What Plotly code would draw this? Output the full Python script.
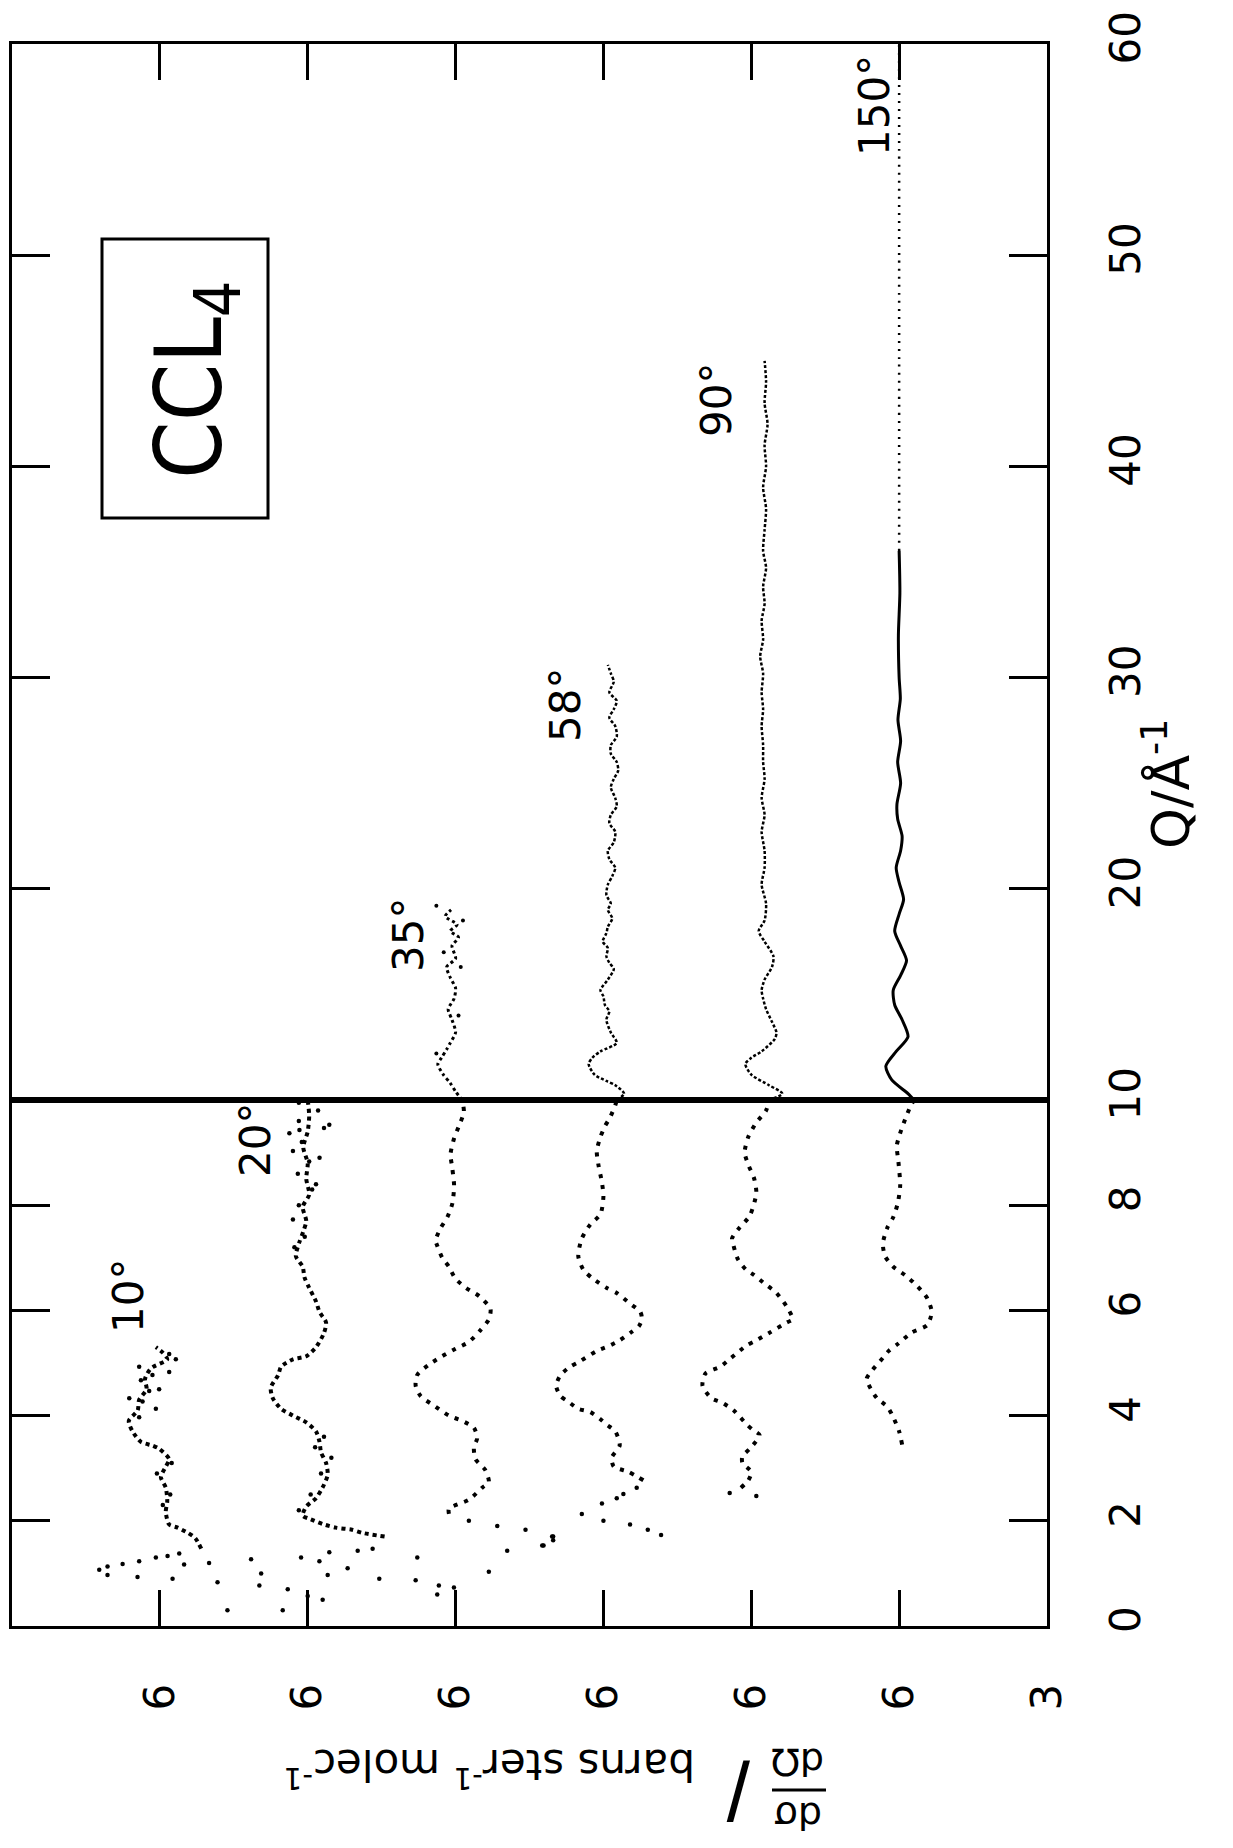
import plotly.graph_objects as go

# ---------------- data (Q in 1/Angstrom, values in tick-spacing units; + = higher cross section) ----
angles = ["10°", "20°", "35°", "58°", "90°", "150°"]
offsets = [6, 5, 4, 3, 2, 1]
xtick_vals = [6, 5, 4, 3, 2, 1, 0]
xtick_text = ["6", "6", "6", "6", "6", "6", "3"]
q_ticks_low = [0, 2, 4, 6, 8, 10]
q_ticks_high = [20, 30, 40, 50, 60]

# 10 deg
q10 = [1.47, 1.67, 1.77, 1.87, 1.93, 2.17, 2.37, 2.63, 2.83, 3.03, 3.17, 3.37, 3.43, 3.5, 3.7,
       3.9, 4.1, 4.3, 4.5, 4.7, 4.9, 5.07, 5.2, 5.3]
v10 = [-0.28, -0.24, -0.19, -0.12, -0.063, -0.04, -0.05, -0.04, -0.007, -0.04, -0.063, 0.005, 0.05,
       0.128, 0.185, 0.21, 0.15, 0.14, 0.09, 0.1, 0.06, -0.05, -0.018, 0.027]
q10n = [3.97, 4.13, 4.27, 4.33, 4.47, 4.5, 4.67, 4.77, 4.83, 4.93, 5.07, 5.17, 2.3, 2.5, 2.9, 3.1,
        1.07, 1.13, 0.97, 1.18, 0.93, 1.23, 1.3, 1.33, 0.9, 1.38, 1.17, 1.2, 0.83, 0.3]
v10n = [0.14, 0.027, 0.117, 0.207, 0.072, 0.005, 0.128, 0.05, -0.063, 0.14, -0.108, -0.063, -0.02,
        -0.07, 0.02, -0.08,
        0.41, 0.354, 0.354, 0.252, 0.151, 0.14, 0.027, -0.052, -0.086, -0.131, -0.164, -0.333, -0.39,
        -0.457]

# 20 deg
q20 = [1.7, 1.77, 1.83, 1.87, 1.93, 2.03, 2.1, 2.27, 2.43, 2.63, 2.87, 3.1, 3.3, 3.5, 3.7, 3.87,
       4.0, 4.13, 4.33, 4.53, 4.77, 4.93, 5.07, 5.13, 5.3, 5.57, 5.77, 5.97, 6.17, 6.43, 6.63, 6.83,
       7.03, 7.3, 7.5, 7.7, 7.97, 8.2, 8.5, 8.8, 9.1, 9.4, 9.7, 10.0]
v20 = [-0.52, -0.37, -0.3, -0.19, -0.11, -0.02, 0.034, 0.01, -0.056, -0.1, -0.135, -0.124, -0.09,
       -0.08, -0.056, 0.01, 0.1, 0.18, 0.236, 0.25, 0.2, 0.18, 0.1, 0.01, -0.056, -0.11, -0.124,
       -0.08, -0.056, -0.01, 0.022, 0.034, 0.08, 0.056, 0.03, 0.01, 0.034, -0.01, 0.01, 0.0, 0.03,
       0.0, -0.01, 0.0]
q20n = [2.2, 2.5, 2.9, 3.2, 3.4, 3.6, 7.2, 7.4, 7.73, 8.0, 8.3, 8.4, 8.6, 8.83, 8.9, 9.03, 9.2,
        9.37, 9.43, 9.47, 9.53, 9.6, 9.8, 9.95,
        1.27, 1.0, 0.77, 0.3, 0.7, 1.3, 0.57, 0.5, 1.23, 0.97, 1.4, 1.1, 1.43, 1.47, 0.9]
v20n = [0.06, -0.02, -0.09, -0.16, -0.05, -0.11, 0.09, 0.02, 0.1, 0.06, -0.03, -0.056, 0.067,
        -0.01, -0.08, 0.1, 0.04, 0.124, 0.056, -0.11, -0.146, 0.06, -0.07, 0.06,
        0.383, 0.315, 0.327, 0.169, 0.135, 0.045, 0.0, -0.101, -0.079, -0.135, -0.146, -0.27,
        -0.338, -0.439, -0.484]

# 35 deg
q35 = [2.13, 2.23, 2.4, 2.63, 2.73, 2.97, 3.17, 3.4, 3.57, 3.77, 3.9, 4.0, 4.17, 4.37, 4.57,
       4.77, 4.97, 5.13, 5.27, 5.4, 5.63, 5.83, 6.03, 6.27, 6.43, 6.6, 6.83, 7.0, 7.23, 7.33, 7.57,
       7.77, 8.03, 8.37, 8.7, 8.97, 9.27, 9.5, 9.77, 10.0]
v35 = [0.045, 0.045, -0.09, -0.18, -0.225, -0.2, -0.135, -0.124, -0.146, -0.124, -0.045, 0.045,
       0.135, 0.236, 0.27, 0.26, 0.18, 0.09, 0.0, -0.09, -0.17, -0.225, -0.236, -0.16, -0.07, 0.0,
       0.045, 0.09, 0.124, 0.135, 0.1, 0.056, 0.022, 0.01, 0.022, 0.034, 0.01, -0.022, -0.056,
       -0.045]
q35n = [0.87, 1.3, 0.77, 0.73, 0.6, 1.03, 1.43, 1.83, 1.53, 1.7, 1.9, 2.0]
v35n = [0.27, 0.259, 0.113, 0.011, 0.124, -0.225, -0.349, -0.473, -0.586, -0.653, -0.282, -0.09]
q35h = [10.0, 10.4, 10.8, 11.2, 11.7, 12.0, 12.4, 12.7, 13.2, 13.8, 14.3, 14.8, 15.3, 15.8, 16.3,
        16.7, 17.3, 17.7, 18.0, 18.3, 18.7, 19.0]
v35h = [-0.045, 0.0, 0.036, 0.083, 0.12, 0.095, 0.06, 0.036, 0.0, 0.024, 0.05, 0.01, 0.0, 0.036,
        0.06, 0.0, 0.024, -0.02, 0.036, -0.01, 0.07, 0.03]
q35hn = [16.3, 19.2, 17.0, 18.5, 14.0, 12.2]
v35hn = [-0.035, 0.13, 0.08, -0.05, -0.02, 0.13]

# 58 deg
q58 = [2.77, 2.93, 3.03, 3.2, 3.43, 3.7, 3.83, 3.93, 4.07, 4.13, 4.27, 4.37, 4.57, 4.77, 4.93,
       5.03, 5.23, 5.32, 5.43, 5.57, 5.7, 5.83, 5.97, 6.13, 6.33, 6.43, 6.6, 6.77, 7.03, 7.37, 7.63,
       7.83, 8.17, 8.43, 8.77, 9.03, 9.3, 9.5, 9.67, 9.9, 10.0]
v58 = [-0.27, -0.17, -0.07, -0.056, -0.11, -0.08, -0.02, 0.02, 0.09, 0.17, 0.24, 0.29, 0.32, 0.29,
       0.225, 0.16, 0.045, -0.034, -0.11, -0.18, -0.24, -0.26, -0.25, -0.18, -0.09, -0.02, 0.07,
       0.135, 0.17, 0.146, 0.09, 0.02, 0.0, 0.01, 0.034, 0.045, 0.02, -0.01, -0.045, -0.08, -0.09]
q58n = [1.53, 1.63, 1.7, 2.13, 2.33, 2.0, 1.93, 1.83, 1.73, 2.43, 2.51, 2.63]
v58n = [0.405, 0.34, 0.34, 0.146, 0.01, 0.0, -0.18, -0.3, -0.39, -0.09, -0.135, -0.225]
q58h = [10.0, 10.3, 10.7, 10.9, 11.2, 11.7, 12.0, 12.3, 12.7, 13.2, 13.8, 14.2, 14.5, 14.9, 15.2,
        15.7, 16.2, 16.5, 16.8, 17.2, 17.5, 17.9, 18.2, 18.6, 19.0, 19.3, 19.7, 20.2, 20.6, 21.0,
        21.4, 21.8, 22.2, 22.7, 23.1, 23.5, 23.9, 24.3, 24.8, 25.2, 25.6, 26.0, 26.4, 26.8, 27.2,
        27.7, 28.1, 28.5, 28.9, 29.3, 29.8, 30.2, 30.6]
v58h = [-0.09, -0.14, -0.08, -0.02, 0.06, 0.10, 0.075, 0.02, -0.09, -0.05, -0.02, -0.04, -0.01,
        0.0, 0.02, -0.03, -0.07, -0.04, -0.02, -0.03, 0.005, -0.02, -0.03, -0.06, -0.03, -0.05,
        -0.02, -0.03, -0.06, -0.08, -0.04, -0.03, -0.07, -0.08, -0.04, -0.05, -0.09, -0.08, -0.05,
        -0.07, -0.10, -0.09, -0.05, -0.05, -0.09, -0.08, -0.04, -0.07, -0.09, -0.04, -0.07, -0.05,
        -0.03]

# 90 deg
q90 = [2.63, 2.77, 2.93, 3.1, 3.23, 3.37, 3.63, 3.73, 3.83, 4.1, 4.25, 4.33, 4.57, 4.8, 4.93, 5.1,
       5.33, 5.43, 5.57, 5.77, 5.83, 6.07, 6.33, 6.53, 6.67, 6.77, 6.97, 7.23, 7.37, 7.57, 7.8,
       8.23, 8.5, 8.77, 9.0, 9.3, 9.57, 9.8, 10.0]
v90 = [0.07, 0.02, 0.0, 0.06, 0.06, 0.01, -0.056, -0.01, 0.03, 0.12, 0.2, 0.27, 0.33, 0.31, 0.21,
       0.135, 0.034, -0.034, -0.12, -0.24, -0.28, -0.24, -0.17, -0.08, -0.02, 0.034, 0.09, 0.12,
       0.13, 0.08, 0.01, -0.034, -0.02, 0.02, 0.045, 0.02, -0.034, -0.1, -0.12]
q90n = [2.47, 2.53]
v90n = [-0.034, 0.146]
q90h = [10.0, 10.3, 10.7, 11.2, 11.7, 12.0, 12.3, 12.9, 13.2, 13.7, 14.3, 14.8, 15.2, 15.7, 16.3,
        16.8, 17.5, 18.0, 18.5, 19.3, 20.2, 21.0, 21.8, 22.7, 23.5, 24.3, 25.2, 26.0, 26.8, 27.7,
        28.5, 29.3, 30.2, 31.0, 31.8, 32.7, 33.5, 34.3, 35.2, 36.0, 37.0, 38.0, 39.0, 40.0, 41.0,
        42.0, 43.0, 44.0, 45.0]
v90h = [-0.12, -0.21, -0.12, 0.0, 0.04, 0.0, -0.07, -0.16, -0.17, -0.14, -0.10, -0.08, -0.07,
        -0.09, -0.14, -0.15, -0.09, -0.05, -0.09, -0.10, -0.07, -0.09, -0.09, -0.07, -0.09, -0.07,
        -0.09, -0.08, -0.08, -0.07, -0.08, -0.07, -0.08, -0.06, -0.08, -0.07, -0.09, -0.08, -0.10,
        -0.08, -0.09, -0.10, -0.08, -0.10, -0.09, -0.11, -0.09, -0.10, -0.09]

# 150 deg
q150 = [3.45, 3.7, 3.97, 4.17, 4.33, 4.5, 4.7, 4.87, 5.03, 5.23, 5.37, 5.58, 5.72, 5.97, 6.23,
        6.47, 6.67, 6.83, 7.03, 7.27, 7.57, 7.77, 8.03, 8.37, 8.83, 9.13, 9.37, 9.63, 9.87, 10.0]
v150 = [-0.02, 0.0, 0.04, 0.08, 0.15, 0.19, 0.22, 0.18, 0.13, 0.07, 0.005, -0.085, -0.19, -0.22,
        -0.19, -0.12, -0.04, 0.04, 0.095, 0.11, 0.08, 0.04, 0.01, -0.007, 0.005, 0.016, -0.007,
        -0.04, -0.075, -0.1]
q150h = [10.0, 10.3, 10.95, 11.6, 12.3, 13.0, 13.8, 14.5, 15.2, 15.9, 16.6, 17.3, 18.0, 18.8,
         19.5, 20.3, 21.0, 21.8, 22.5, 23.3, 24.0, 25.0, 26.0, 27.0, 28.0, 29.0, 30.0, 32.0, 34.0,
         36.0]
v150h = [-0.1, -0.06, 0.05, 0.09, 0.02, -0.06, -0.02, 0.03, 0.04, -0.01, -0.05, -0.01, 0.03, 0.0,
         -0.03, 0.0, 0.02, -0.01, -0.02, 0.01, 0.015, -0.01, 0.01, -0.01, 0.008, -0.008, 0.0,
         0.005, -0.005, 0.0]
q150t = [36.0, 40.0, 45.0, 50.0, 55.0, 60.0]
v150t = [0.0, 0.0, 0.0, 0.0, 0.0, 0.0]

# ---------------- layout geometry ----------------
W, H = 1233, 1848
L, R, T, B = 12, 1047, 44, 1626
Q10_PX = 1100
qsplit = (B - Q10_PX) / (B - T)


def px(xp):
    return (xp - L) / (R - L)


def py(yp):
    return (B - yp) / (B - T)


FONT = "DejaVu Sans"
fig = go.Figure()


def line(q, v, off, high, width, dash, solid=False):
    fig.add_trace(go.Scatter(
        x=[off + a for a in v], y=q, mode="lines",
        line=dict(color="black", width=width, dash=None if solid else dash,
                  shape="spline", smoothing=0.7),
        xaxis="x2" if high else "x", yaxis="y2" if high else "y",
        hoverinfo="skip"))


def dots(q, v, off, high, size=4.5):
    fig.add_trace(go.Scatter(
        x=[off + a for a in v], y=q, mode="markers",
        marker=dict(color="black", size=size, line=dict(width=0)),
        xaxis="x2" if high else "x", yaxis="y2" if high else "y",
        hoverinfo="skip"))


LOWDASH = "4px,7px"
line(q10, v10, offsets[0], False, 4, "4px,4px")
dots(q10n, v10n, offsets[0], False)
line(q20, v20, offsets[1], False, 4, "4px,4px")
dots(q20n, v20n, offsets[1], False)
line(q35, v35, offsets[2], False, 4, LOWDASH)
dots(q35n, v35n, offsets[2], False)
line(q35h, v35h, offsets[2], True, 3, "3px,3px")
dots(q35hn, v35hn, offsets[2], True, 4)
line(q58, v58, offsets[3], False, 4, LOWDASH)
dots(q58n, v58n, offsets[3], False)
line(q58h, v58h, offsets[3], True, 2.5, "3px,2px")
line(q90, v90, offsets[4], False, 4, LOWDASH)
dots(q90n, v90n, offsets[4], False)
line(q90h, v90h, offsets[4], True, 2.5, "3px,2px")
line(q150, v150, offsets[5], False, 4, LOWDASH)
line(q150h, v150h, offsets[5], True, 3, None, solid=True)
line(q150t, v150t, offsets[5], True, 2.5, "2px,6px")

axis_common = dict(showgrid=False, zeroline=False, showline=True, linecolor="black",
                   linewidth=3, ticks="inside", tickwidth=2.5, tickcolor="black",
                   tickfont=dict(family=FONT, size=42, color="black"))

fig.update_layout(
    width=W, height=H,
    margin=dict(l=L, r=W - R, t=T, b=H - B, autoexpand=False),
    paper_bgcolor="white", plot_bgcolor="white", showlegend=False,
    xaxis=dict(axis_common, domain=[0, 1], anchor="y", range=[7.0, 0.0],
               tickvals=xtick_vals, ticktext=xtick_text, ticklen=36, tickangle=-90,
               mirror=True, ticklabelstandoff=38),
    xaxis2=dict(axis_common, domain=[0, 1], anchor="y2", side="top", range=[7.0, 0.0],
                tickvals=xtick_vals[:-1], ticklen=36, showticklabels=False, mirror=True),
    yaxis=dict(axis_common, domain=[0, qsplit], anchor="x", side="right", range=[0, 10],
               tickvals=q_ticks_low, ticktext=[str(t) for t in q_ticks_low], ticklen=38,
               tickangle=-90, mirror="ticks", ticklabelstandoff=40),
    yaxis2=dict(axis_common, domain=[qsplit, 1], anchor="x2", side="right", range=[10, 60],
                tickvals=q_ticks_high, ticktext=[str(t) for t in q_ticks_high], ticklen=38,
                tickangle=-90, mirror="ticks", ticklabelstandoff=40),
)

annots = []
label_pos = [(128, 1296), (255, 1140), (408, 935), (565, 705), (716, 400), (875, 106)]
for txt, (xp, yp) in zip(angles, label_pos):
    annots.append(dict(text=txt, x=px(xp), y=py(yp), xref="paper", yref="paper",
                       showarrow=False, textangle=-90, xanchor="center", yanchor="middle",
                       font=dict(family=FONT, size=42, color="black")))

# box label
annots.append(dict(text="CCL<sub>4</sub>", x=px(195), y=py(380), xref="paper", yref="paper",
                   showarrow=False, textangle=-90, xanchor="center", yanchor="middle",
                   font=dict(family="DejaVu Sans Condensed", size=92, color="black")))
# axis titles
annots.append(dict(text="Q/Å<sup>-1</sup>", x=px(1167), y=py(784), xref="paper", yref="paper",
                   showarrow=False, textangle=-90, xanchor="center", yanchor="middle",
                   font=dict(family=FONT, size=52, color="black")))
annots.append(dict(text="dΩ", x=px(798), y=py(1762), xref="paper", yref="paper",
                   showarrow=False, textangle=180, xanchor="center", yanchor="middle",
                   font=dict(family=FONT, size=38, color="black")))
annots.append(dict(text="dσ", x=px(798), y=py(1816), xref="paper", yref="paper",
                   showarrow=False, textangle=180, xanchor="center", yanchor="middle",
                   font=dict(family=FONT, size=38, color="black")))
annots.append(dict(text="/", x=px(738), y=py(1790), xref="paper", yref="paper",
                   showarrow=False, textangle=180, xanchor="center", yanchor="middle",
                   font=dict(family="Liberation Sans", size=84, color="black")))
annots.append(dict(text="barns ster<sup>-1</sup> molec<sup>-1</sup>", x=px(490), y=py(1768),
                   xref="paper", yref="paper", showarrow=False, textangle=180,
                   xanchor="center", yanchor="middle",
                   font=dict(family=FONT, size=42, color="black")))
fig.update_layout(annotations=annots)

shapes = [
    dict(type="rect", xref="paper", yref="paper", x0=px(102), x1=px(268), y0=py(518), y1=py(239),
         line=dict(color="black", width=3)),
    dict(type="line", xref="paper", yref="paper", x0=px(772), x1=px(826), y0=py(1790),
         y1=py(1790), line=dict(color="black", width=3)),
]
fig.update_layout(shapes=shapes)

fig.write_html("out.html")
